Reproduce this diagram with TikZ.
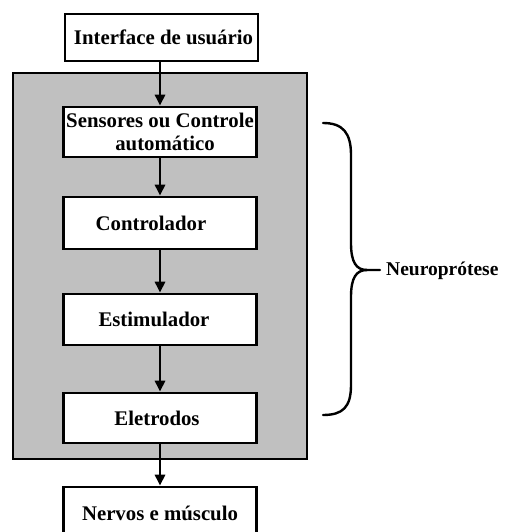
\documentclass[tikz,border=0pt]{standalone}
\usepackage{fontspec}
\setmainfont{Liberation Serif}
\usetikzlibrary{arrows.meta}
\definecolor{panelgray}{HTML}{C0C0C0}
\begin{document}
\begin{tikzpicture}[x=1pt,y=-1pt,
  box/.style={draw=black,line width=2.6pt,fill=white,minimum width=193pt,inner sep=0pt,
    font=\fontsize{20.8}{23}\selectfont\bfseries,align=center},
  flow/.style={line width=2.6pt,-{Triangle[length=11pt,width=10pt]}},
  bracepath/.style={line width=2.4pt,line cap=round}]
\useasboundingbox (0,0) rectangle (517,532);
\fill[white] (0,0) rectangle (517,532);
\draw[line width=2.4pt,fill=panelgray] (13,73) rectangle (307,459);
\node[box,minimum height=47pt] (ui) at (161.5,37.5) {\hspace*{4pt}Interface de usuário};
\node[box,minimum height=50pt] (sens) at (160,132) {Sensores ou Controle\\\hspace*{10pt}automático};
\node[box,minimum height=52pt] (ctrl) at (160,223) {\hspace*{-18pt}Controlador};
\node[box,minimum height=51pt] (stim) at (160,319.5) {\hspace*{-12pt}Estimulador};
\node[box,minimum height=50pt] (elet) at (160,418) {\hspace*{-6pt}Eletrodos};
\node[box,minimum height=52pt] (nerv) at (160,513) {Nervos e músculo};
\draw[flow] (ui.south -| sens.north) -- (sens.north);
\draw[flow] (sens) -- (ctrl);
\draw[flow] (ctrl) -- (stim);
\draw[flow] (stim) -- (elet);
\draw[flow] (elet) -- (nerv);
\node[anchor=west,inner sep=0pt,font=\fontsize{19.5}{23}\selectfont\bfseries] (neuro) at (386,271) {Neuroprótese};
\coordinate (btop) at (323,123);
\coordinate (bbot) at (323,415);
\coordinate (btip) at (380,270);
\draw[bracepath] (btop) .. controls (343,123) and (351,133) .. (351,155)
  -- (351,243) .. controls (351,262) and (356,270) .. (367,270) -- (btip);
\draw[bracepath] (367,270) .. controls (356,270) and (351,278) .. (351,297)
  -- (351,385) .. controls (351,407) and (343,415) .. (bbot);
\end{tikzpicture}
\end{document}
